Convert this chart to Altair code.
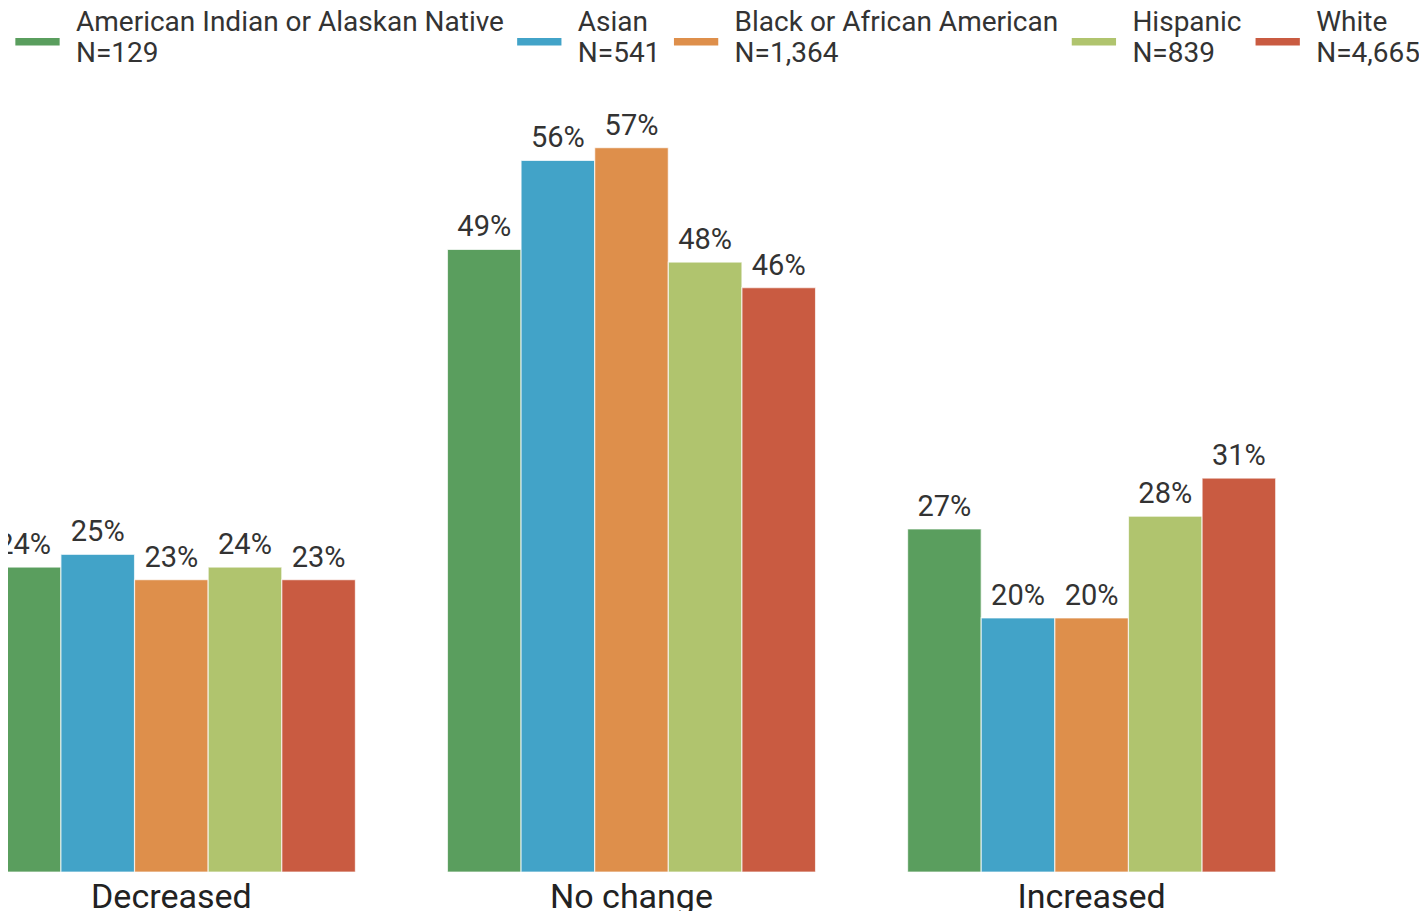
import altair as alt
import pandas as pd

changes = ["Decreased", "No change", "Increased"]
groups = ["American Indian or Alaskan Native", "Asian", "Black or African American", "Hispanic", "White"]
counts = ["N=129", "N=541", "N=1,364", "N=839", "N=4,665"]
colors = ["#5a9e5e", "#42a3c8", "#de8f4b", "#b0c46e", "#c95b41"]
decreased = [24, 25, 23, 24, 23]
no_change = [49, 56, 57, 48, 46]
increased = [27, 20, 20, 28, 31]

legend_domain = [g + "\n" + n for g, n in zip(groups, counts)]
rows = []
for change, vals in zip(changes, [decreased, no_change, increased]):
    for lab, v in zip(legend_domain, vals):
        rows.append({"change": change, "group": lab, "value": v})
df = pd.DataFrame(rows)

FONT = "Roboto"

x_enc = alt.X(
    "change:N",
    sort=changes,
    scale=alt.Scale(range=[-20.7, 1267.7], paddingInner=0.2, paddingOuter=0),
    axis=alt.Axis(title=None, domain=False, ticks=False, labelAngle=0,
                  labelFontSize=34, labelPadding=8, labelFont=FONT,
                  labelColor="#222222"),
)
xoff = alt.XOffset("group:N", sort=legend_domain,
                   scale=alt.Scale(paddingInner=0, paddingOuter=0))
y_enc = alt.Y("value:Q", scale=alt.Scale(domain=[0, 68], nice=False), axis=None)
color = alt.Color(
    "group:N",
    scale=alt.Scale(domain=legend_domain, range=colors),
    legend=alt.Legend(
        title=None, orient="none", legendX=7, legendY=-8,
        direction="horizontal", columns=5,
        symbolType="M-1,0.692H1V1.024H-1Z", symbolSize=1962,
        symbolStrokeWidth=0, symbolOpacity=1,
        labelFont=FONT, labelFontSize=28, labelColor="#333333",
        labelLimit=1000, labelOffset=16, columnPadding=12.8, padding=0,
        labelExpr="split(datum.label, '\\n')",
    ),
)

bars = alt.Chart(df).mark_bar(stroke="white", strokeWidth=1.2, strokeOpacity=0.7).encode(
    x=x_enc, xOffset=xoff, y=y_enc, color=color
)
text = alt.Chart(df).transform_calculate(label="datum.value + '%'").mark_text(
    font=FONT, fontSize=29, dy=-13, baseline="alphabetic", color="#333333"
).encode(x=x_enc, xOffset=xoff, y=y_enc, text="label:N")

chart = (bars + text).properties(
    width=1411, height=864,
    padding={"left": 0, "top": 0, "right": 0, "bottom": 40},
    autosize=alt.AutoSizeParams(type="none"),
    background="white",
).configure(
    view=alt.ViewConfig(stroke=None),
    style={"guide-label": {"lineHeight": 31}},
)

chart.save("out.html", embed_options={"renderer": "svg", "actions": False})
